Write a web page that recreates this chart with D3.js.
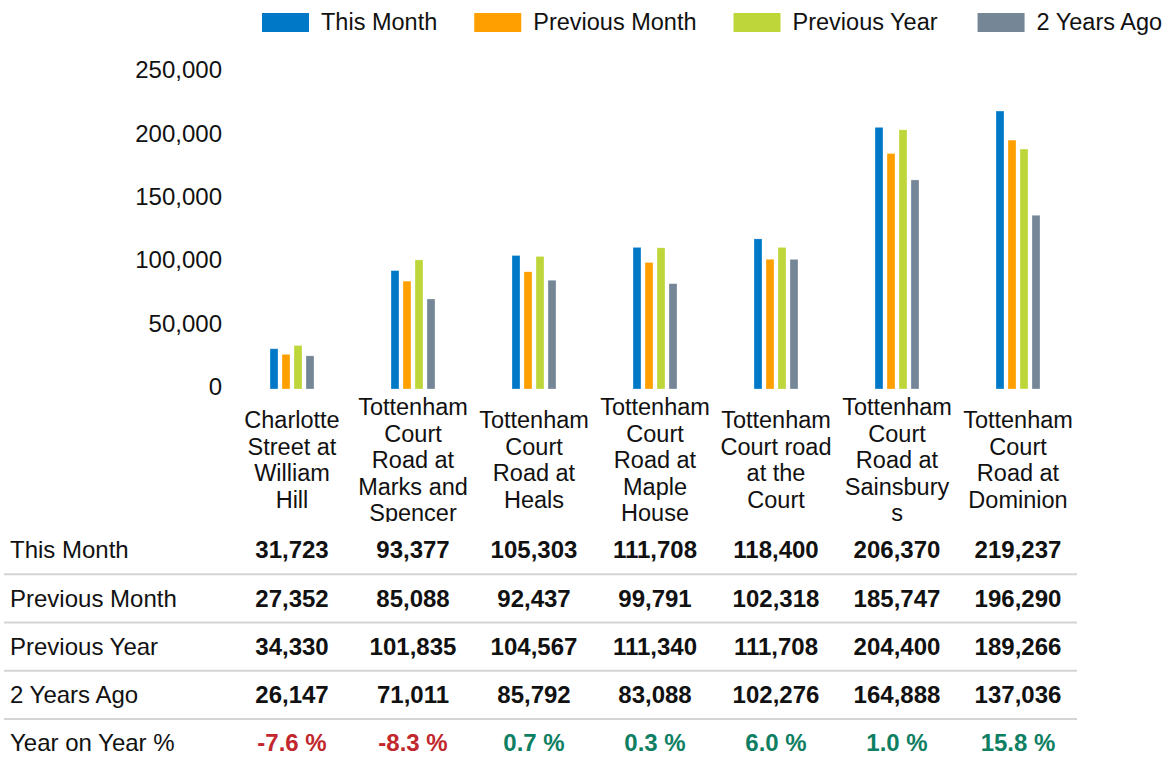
<!DOCTYPE html>
<html lang="en">
<head>
  <meta charset="UTF-8">
  <title>Footfall by Location</title>
  <script src="https://d3js.org/d3.v7.min.js"></script>
  <style>
    body {
      margin: 0;
      background: #fff;
      font-family: "Liberation Sans", Arial, sans-serif;
    }
    svg text {
      fill: #111;
    }
    .tick text {
      font-size: 24px;
      font-family: "Liberation Sans", Arial, sans-serif;
    }
    .cat-label {
      font-size: 23.5px;
    }
    .row-label {
      font-size: 24px;
    }
    .cell {
      font-size: 24px;
      font-weight: bold;
    }
    .sep {
      stroke: #d4d4d4;
      stroke-width: 2px;
    }
  </style>
</head>
<body>
<script>
// category names, split the way the chart wraps them
const categoryLines = [
  ["Charlotte", "Street at", "William", "Hill"],
  ["Tottenham", "Court", "Road at", "Marks and", "Spencer"],
  ["Tottenham", "Court", "Road at", "Heals"],
  ["Tottenham", "Court", "Road at", "Maple", "House"],
  ["Tottenham", "Court road", "at the", "Court"],
  ["Tottenham", "Court", "Road at", "Sainsbury", "s"],
  ["Tottenham", "Court", "Road at", "Dominion"]
];
const categories = categoryLines.map(l => l.join(" "));

const seriesNames = ["This Month", "Previous Month", "Previous Year", "2 Years Ago"];
const seriesColors = ["#0078c8", "#ffa000", "#bed63a", "#758797"];

const thisMonth     = [31723, 93377, 105303, 111708, 118400, 206370, 219237];
const previousMonth = [27352, 85088, 92437, 99791, 102318, 185747, 196290];
const previousYear  = [34330, 101835, 104567, 111340, 111708, 204400, 189266];
const twoYearsAgo   = [26147, 71011, 85792, 83088, 102276, 164888, 137036];
const seriesValues = [thisMonth, previousMonth, previousYear, twoYearsAgo];

const yTicks = [0, 50000, 100000, 150000, 200000, 250000];

const width = 1164, height = 762;

const svg = d3.select("body").append("svg")
  .attr("width", width)
  .attr("height", height);

// scales
const x0 = d3.scaleBand().domain(categories).range([231.5, 1078.5]);
const x1 = d3.scaleBand().domain(seriesNames).range([-22, 22]).paddingInner(1 / 3);
const y = d3.scaleLinear().domain([0, 250000]).range([389, 72]);
const color = d3.scaleOrdinal().domain(seriesNames).range(seriesColors);

// legend
const legend = svg.append("g").attr("class", "legend");
let lx = 262;
seriesNames.forEach((name, i) => {
  const g = legend.append("g").attr("transform", `translate(${lx},13)`);
  g.append("rect")
    .attr("width", 47)
    .attr("height", 19)
    .attr("fill", color(name));
  const t = g.append("text")
    .attr("x", 59)
    .attr("y", 9)
    .attr("dy", "0.35em")
    .style("font-size", "23.5px")
    .text(name);
  lx += 59 + t.node().getComputedTextLength() + (i === 2 ? 40 : 37);
});

// y axis, labels only
const yAxis = svg.append("g")
  .attr("transform", "translate(222,-2)")
  .call(d3.axisLeft(y).tickValues(yTicks).tickSize(0).tickPadding(0).tickFormat(d3.format(",")));
yAxis.select(".domain").remove();
yAxis.selectAll(".tick text").attr("fill", "#111");

// bars
const groups = svg.append("g")
  .selectAll("g")
  .data(categories)
  .join("g")
  .attr("transform", d => `translate(${x0(d) + x0.bandwidth() / 2},0)`);

groups.selectAll("rect")
  .data((d, i) => seriesNames.map((s, j) => ({ series: s, value: seriesValues[j][i] })))
  .join("rect")
  .attr("x", d => x1(d.series))
  .attr("width", x1.bandwidth())
  .attr("y", d => y(d.value))
  .attr("height", d => y(0) - y(d.value))
  .attr("fill", d => color(d.series))
  .attr("stroke", "#fff")
  .attr("stroke-opacity", 0.5)
  .attr("stroke-width", 0.6);

// category labels (clipped at the bottom like the original)
svg.append("clipPath").attr("id", "catclip")
  .append("rect").attr("x", 0).attr("y", 390).attr("width", width).attr("height", 132);

const lineH = 26.5;
const labels = svg.append("g").attr("clip-path", "url(#catclip)")
  .selectAll("text")
  .data(categories)
  .join("text")
  .attr("class", "cat-label")
  .attr("text-anchor", "middle")
  .attr("x", d => x0(d) + x0.bandwidth() / 2);

labels.each(function(d, i) {
  const lines = categoryLines[i];
  const t = d3.select(this);
  lines.forEach((ln, k) => {
    t.append("tspan")
      .attr("x", x0(d) + x0.bandwidth() / 2)
      .attr("y", 460 + (k - (lines.length - 1) / 2) * lineH)
      .attr("dy", "0.35em")
      .text(ln);
  });
});

// data table
const yoy = thisMonth.map((v, i) => v / previousYear[i] - 1);
const rowNames = [...seriesNames, "Year on Year %"];
const rowY = d3.scalePoint().domain(rowNames).range([550, 743]);
const fmt = d3.format(",");
const pct = d => d3.format(".1f")(d * 100).replace("\u2212", "-") + " %";

const table = svg.append("g").attr("class", "table");

rowNames.slice(1).forEach(r => {
  const ly = rowY(r) - rowY.step() / 2;
  table.append("line")
    .attr("class", "sep")
    .attr("x1", 4).attr("x2", 1077)
    .attr("y1", ly).attr("y2", ly);
});

table.selectAll(".row-label")
  .data(rowNames)
  .join("text")
  .attr("class", "row-label")
  .attr("x", 10)
  .attr("y", d => rowY(d))
  .attr("dy", "0.35em")
  .text(d => d);

seriesNames.forEach((s, j) => {
  table.append("g").selectAll("text")
    .data(seriesValues[j])
    .join("text")
    .attr("class", "cell")
    .attr("text-anchor", "middle")
    .attr("x", (d, i) => x0(categories[i]) + x0.bandwidth() / 2)
    .attr("y", rowY(s))
    .attr("dy", "0.35em")
    .text(d => fmt(d));
});

table.append("g").selectAll("text")
  .data(yoy)
  .join("text")
  .attr("class", "cell")
  .attr("text-anchor", "middle")
  .attr("x", (d, i) => x0(categories[i]) + x0.bandwidth() / 2)
  .attr("y", rowY("Year on Year %"))
  .attr("dy", "0.35em")
  .style("fill", d => d < 0 ? "#c1272d" : "#0e7f62")
  .text(pct);
</script>
</body>
</html>
